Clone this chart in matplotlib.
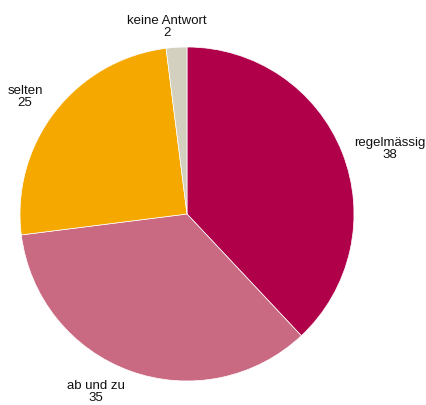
import matplotlib
matplotlib.use("Agg")
import matplotlib.pyplot as plt

categories = ["regelmässig", "ab und zu", "selten", "keine Antwort"]
values = [38, 35, 25, 2]
colors = ["#B0004A", "#C96A82", "#F5A800", "#D3D0C0"]

W, H = 427, 405
cx, cy, r = 187, 214, 167
label_px = [(390, 149), (96, 392), (25, 97), (167, 27)]

fig = plt.figure(figsize=(W / 100, H / 100), dpi=100)
ax = fig.add_axes([0, 0, 1, 1])
ax.pie(values, colors=colors, startangle=90, counterclock=False,
       radius=1, center=(0, 0),
       wedgeprops=dict(linewidth=0.5, edgecolor="white"))
ax.set_xlim(-cx / r, (W - cx) / r)
ax.set_ylim(-(H - cy) / r, cy / r)
ax.set_aspect("equal")
ax.axis("off")

for (px, py), cat, v in zip(label_px, categories, values):
    ax.text((px - cx) / r, (cy - py) / r, f"{cat}\n{v}", ha="center", va="center",
            fontsize=9.5, family=["Liberation Sans", "DejaVu Sans"], linespacing=1.0,
            color="#111111")

fig.savefig("out.png", dpi=100)
